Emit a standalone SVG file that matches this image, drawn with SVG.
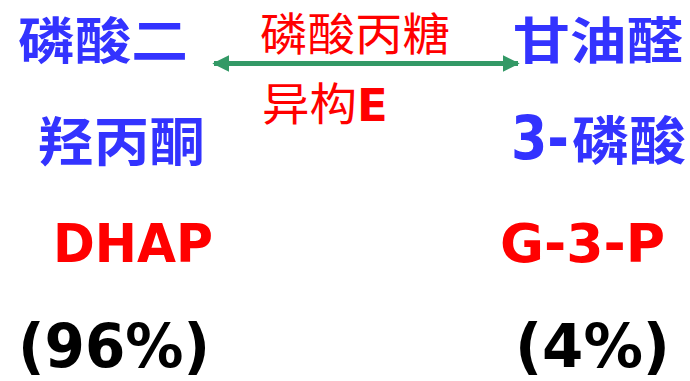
<svg xmlns="http://www.w3.org/2000/svg" width="690" height="381" viewBox="0 0 690 381">
<style>
.cjk{font-family:"Noto Sans CJK SC","Noto Sans",sans-serif;}
.lat{font-family:"DejaVu Sans","Verdana",sans-serif;font-weight:bold;}
.blue{fill:#3333ff;font-weight:bold;}
.red{fill:#ff0000;}
.blk{fill:#000;}
</style>
<defs>
<marker id="ah" viewBox="0 0 10 10" refX="9" refY="5" markerWidth="3.4" markerHeight="3.4" orient="auto-start-reverse" markerUnits="strokeWidth">
<path d="M0,0 L10,5 L0,10 z" fill="#339966"/>
</marker>
</defs>
<rect width="690" height="381" fill="#fff"/>
<g id="connectors">
<line x1="214" y1="63.5" x2="518" y2="63.5" stroke="#339966" stroke-width="5" marker-start="url(#ah)" marker-end="url(#ah)"/>
</g>
<g id="dhap">
<text class="cjk blue" x="18" y="59" font-size="50" textLength="170" lengthAdjust="spacingAndGlyphs">磷酸二</text>
<text class="cjk blue" x="38" y="161" font-size="52" textLength="167" lengthAdjust="spacingAndGlyphs">羟丙酮</text>
<text class="lat red" x="53" y="262" font-size="54" textLength="160" lengthAdjust="spacingAndGlyphs">DHAP</text>
<text class="lat blk" x="18" y="367" font-size="60" textLength="192" lengthAdjust="spacingAndGlyphs">(96%)</text>
</g>
<g id="enzyme">
<text class="cjk red" x="260" y="51" font-size="45" textLength="190" lengthAdjust="spacingAndGlyphs">磷酸丙糖</text>
<text class="cjk red" x="262" y="121" font-size="45" textLength="95" lengthAdjust="spacingAndGlyphs">异构</text>
<text class="lat red" x="357" y="121" font-size="45">E</text>
</g>
<g id="g3p">
<text class="cjk blue" x="513" y="59" font-size="50" textLength="170" lengthAdjust="spacingAndGlyphs">甘油醛</text>
<text class="lat blue" x="511" y="159" font-size="60" textLength="58" lengthAdjust="spacingAndGlyphs">3-</text>
<text class="cjk blue" x="572" y="160" font-size="52" textLength="114" lengthAdjust="spacingAndGlyphs">磷酸</text>
<text class="lat red" x="500" y="262" font-size="54" textLength="165" lengthAdjust="spacingAndGlyphs">G-3-P</text>
<text class="lat blk" x="515" y="367" font-size="60" textLength="155" lengthAdjust="spacingAndGlyphs">(4%)</text>
</g>
</svg>
